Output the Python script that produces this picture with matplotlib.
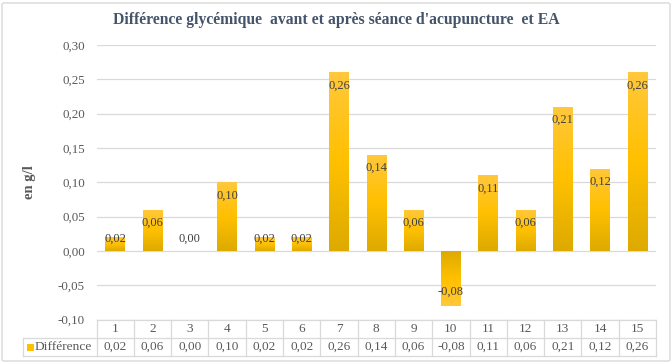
import matplotlib
matplotlib.use("Agg")
import matplotlib.pyplot as plt
import numpy as np
from matplotlib.colors import LinearSegmentedColormap
from matplotlib.patches import Rectangle, FancyBboxPatch
from matplotlib.lines import Line2D

categories = ["1", "2", "3", "4", "5", "6", "7", "8", "9", "10", "11", "12", "13", "14", "15"]
values = [0.02, 0.06, 0.00, 0.10, 0.02, 0.02, 0.26, 0.14, 0.06, -0.08, 0.11, 0.06, 0.21, 0.12, 0.26]
series_name = "Différence"
title = "Différence glycémique  avant et après séance d'acupuncture  et EA"
ylabel = "en g/l"
yticks = [-0.10, -0.05, 0.00, 0.05, 0.10, 0.15, 0.20, 0.25, 0.30]

def fr(v):
    return f"{v:.2f}".replace(".", ",")

plt.rcParams['font.family'] = ['Liberation Serif', 'DejaVu Serif']

W, H = 672, 363
fig = plt.figure(figsize=(W / 100, H / 100), dpi=100)
fig.patch.set_facecolor("white")

# figure border
fig.patches.append(FancyBboxPatch((2 / W, 2 / H), 1 - 4 / W, 1 - 5 / H,
                                  boxstyle="round,pad=0,rounding_size=0.004",
                                  transform=fig.transFigure, fill=False,
                                  edgecolor="#D9D9D9", linewidth=1.0))

px_l, px_r = 96.5, 656.0
px_t, px_b = 45.0, 319.5
ax = fig.add_axes([px_l / W, 1 - px_b / H, (px_r - px_l) / W, (px_b - px_t) / H])
n = len(values)
ax.set_xlim(-0.5, n - 0.5)
ax.set_ylim(-0.10, 0.30)
for s in ax.spines.values():
    s.set_visible(False)
ax.set_xticks([])
ax.set_yticks(yticks)
ax.set_yticklabels([fr(t) for t in yticks], fontsize=9.4, color="#595959")
ax.tick_params(axis="y", length=0, pad=8.3)
for t in yticks:
    ax.axhline(t, color="#D9D9D9", linewidth=0.9, zorder=0)

cmap = LinearSegmentedColormap.from_list("g", ["#DDAA00", "#FFC000", "#FFC83C"])
grad = np.linspace(0, 1, 256).reshape(-1, 1)
bw = 0.52
bars = ax.bar(range(n), values, width=bw, color="none", edgecolor="none", zorder=2)
for i, (b, v) in enumerate(zip(bars, values)):
    if v == 0:
        continue
    x0 = i - bw / 2
    x1 = i + bw / 2
    im = ax.imshow(grad, extent=[x0, x1, 0, v], origin="lower", cmap=cmap,
                   aspect="auto", zorder=2, interpolation="bilinear")
    im.set_clip_path(b)
ax.set_xlim(-0.5, n - 0.5)
ax.set_ylim(-0.10, 0.30)

# data labels
upp = 0.40 / (px_b - px_t)  # data units per pixel
for i, v in enumerate(values):
    if v >= 0:
        y = max(v - 13 * upp, 12 * upp)
    else:
        y = v + 14 * upp
    ax.text(i, y, fr(v), ha="center", va="center", fontsize=9, color="#404040", zorder=3)

# title and y label
fig.text(336 / W, 1 - 20 / H, title, ha="center", va="center", fontsize=11.3,
         fontweight="bold", color="#44546A")
fig.text(30 / W, 1 - 182 / H, ylabel, ha="center", va="center", fontsize=10.5,
         fontweight="bold", color="#595959", rotation=90)

# data table
col_w = (px_r - px_l) / n
r1_t, r1_b, r2_b = 320.0, 337.5, 356.0
tl_x = 22.5
gc = "#D9D9D9"

def hline(x0, x1, y):
    fig.add_artist(Line2D([x0 / W, x1 / W], [1 - y / H, 1 - y / H], color=gc, lw=0.9))

def vline(x, y0, y1):
    fig.add_artist(Line2D([x / W, x / W], [1 - y0 / H, 1 - y1 / H], color=gc, lw=0.9))

hline(px_l, px_r, r1_t)
hline(tl_x, px_r, r1_b)
hline(tl_x, px_r, r2_b)
vline(tl_x, r1_b, r2_b)
for k in range(n + 1):
    vline(px_l + k * col_w, r1_t, r2_b)
for i, (c, v) in enumerate(zip(categories, values)):
    cx = px_l + (i + 0.5) * col_w
    fig.text(cx / W, 1 - (r1_t + r1_b) / 2 / H, c, ha="center", va="center",
             fontsize=9.5, color="#595959")
    fig.text(cx / W, 1 - (r1_b + r2_b) / 2 / H, fr(v), ha="center", va="center",
             fontsize=9.5, color="#595959")
fig.patches.append(Rectangle((27 / W, 1 - 350.5 / H), 6.5 / W, 7 / H,
                             transform=fig.transFigure, facecolor="#FFC000",
                             edgecolor="none"))
fig.text(35 / W, 1 - (r1_b + r2_b) / 2 / H, series_name, ha="left", va="center",
         fontsize=9.7, color="#595959")

fig.savefig("out.png", dpi=100, facecolor="white")
